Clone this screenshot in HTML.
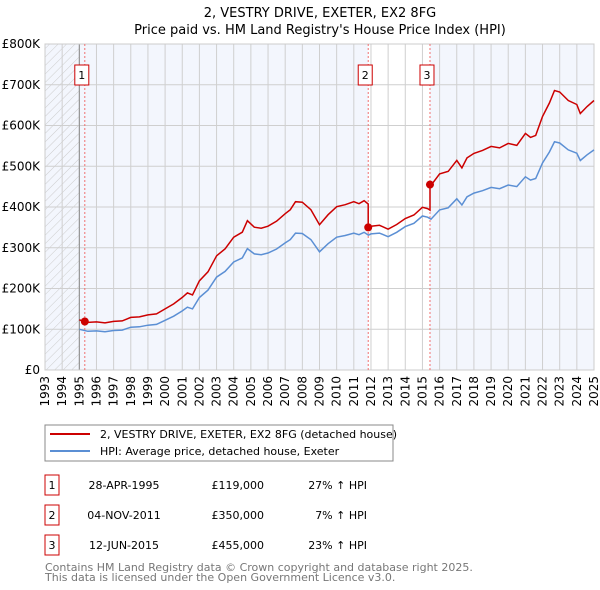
<!DOCTYPE html>
<html><head><meta charset="utf-8"><style>
body{margin:0;background:#fff;font-family:"DejaVu Sans","Liberation Sans",sans-serif;}
svg{display:block}
</style></head><body>
<svg width="600" height="590" xmlns="http://www.w3.org/2000/svg" font-family="DejaVu Sans, Liberation Sans, sans-serif">
<defs><pattern id="hatch" width="6" height="6" patternUnits="userSpaceOnUse" patternTransform="rotate(45)"><line x1="0" y1="0" x2="0" y2="6" stroke="#ccc" stroke-width="1"/></pattern></defs>
<text x="320" y="17" font-size="13" text-anchor="middle">2, VESTRY DRIVE, EXETER, EX2 8FG</text>
<text x="320" y="34" font-size="13" text-anchor="middle">Price paid vs. HM Land Registry's House Price Index (HPI)</text>
<g id="plot"></g>
<g id="legend">
<rect x="45" y="425" width="348" height="36" fill="#fff" stroke="#888"/>
<line x1="50" y1="434" x2="90" y2="434" stroke="#cc0000" stroke-width="2"/>
<text x="100" y="438" font-size="11">2, VESTRY DRIVE, EXETER, EX2 8FG (detached house)</text>
<line x1="50" y1="451" x2="90" y2="451" stroke="#5b8fd4" stroke-width="2"/>
<text x="100" y="455" font-size="11">HPI: Average price, detached house, Exeter</text>
</g>
<g id="table" font-size="11"></g>
<text x="45" y="571" font-size="11" fill="#777">Contains HM Land Registry data © Crown copyright and database right 2025.</text>
<text x="45" y="581" font-size="11" fill="#777">This data is licensed under the Open Government Licence v3.0.</text>
</svg>
<script>
const hpiYears=[1995,1995.5,1996,1996.5,1997,1997.5,1998,1998.5,1999,1999.5,2000,2000.5,2001,2001.3,2001.6,2002,2002.5,2003,2003.5,2004,2004.5,2004.8,2005.2,2005.6,2006,2006.5,2007,2007.3,2007.6,2008,2008.5,2009,2009.5,2010,2010.5,2011,2011.3,2011.6,2011.85,2012,2012.5,2013,2013.5,2014,2014.5,2015,2015.3,2015.5,2016,2016.5,2017,2017.3,2017.6,2018,2018.5,2019,2019.5,2020,2020.5,2021,2021.3,2021.6,2022,2022.4,2022.7,2023,2023.5,2024,2024.2,2024.6,2025];
const hpiValues=[100,95,96,94,97,98,105,106,110,112,122,132,145,154,150,178,196,228,242,265,275,298,285,283,287,297,312,320,336,335,320,290,310,326,330,336,332,338,331,334,336,327,338,352,360,378,375,370,393,398,420,405,425,434,440,448,445,454,450,474,466,470,508,535,560,557,540,532,514,528,540];
const saleDates=[1995.32,2011.84,2015.44];
const salePrices=[119,350,455];
const saleLabels=["1","2","3"];
const saleDateText=["28-APR-1995","04-NOV-2011","12-JUN-2015"];
const salePriceText=["£119,000","£350,000","£455,000"];
const saleDiffText=["27% ↑ HPI","7% ↑ HPI","23% ↑ HPI"];
const yTicks=[0,100,200,300,400,500,600,700,800];
const yTickLabels=["£0","£100K","£200K","£300K","£400K","£500K","£600K","£700K","£800K"];
const xYears=[1993,1994,1995,1996,1997,1998,1999,2000,2001,2002,2003,2004,2005,2006,2007,2008,2009,2010,2011,2012,2013,2014,2015,2016,2017,2018,2019,2020,2021,2022,2023,2024,2025];

const NS="http://www.w3.org/2000/svg";
const X0=45,X1=594,Y0=370,Y1=44;
const xS=t=>X0+(t-1993)/32*(X1-X0);
const yS=v=>Y0-v/800*(Y0-Y1);
const plot=document.getElementById('plot');
function mk(tag,attrs,parent){const e=document.createElementNS(NS,tag);for(const k in attrs)e.setAttribute(k,attrs[k]);(parent||plot).appendChild(e);return e;}
function hpiAt(t){for(let i=1;i<hpiYears.length;i++){if(t<=hpiYears[i]){const f=(t-hpiYears[i-1])/(hpiYears[i]-hpiYears[i-1]);return hpiValues[i-1]+f*(hpiValues[i]-hpiValues[i-1]);}}return hpiValues[hpiValues.length-1];}

let e;
e=mk('rect',{x:X0,y:Y1,width:X1-X0,height:Y0-Y1,fill:'#f3f6fd'});

e=mk('rect',{x:xS(saleDates[1]),y:Y1,width:xS(saleDates[2])-xS(saleDates[1]),height:Y0-Y1,fill:'#fff'});

e=mk('rect',{x:X0,y:Y1,width:xS(1995)-X0,height:Y0-Y1,fill:'url(#hatch)'});

xYears.forEach(y=>{e=mk('line',{x1:xS(y),x2:xS(y),y1:Y1,y2:Y0,stroke:'#cfcfcf','stroke-width':1});
});
yTicks.forEach((v,i)=>{e=mk('line',{x1:X0,x2:X1,y1:yS(v),y2:yS(v),stroke:'#cfcfcf','stroke-width':1});

e=mk('text',{x:40,y:yS(v)+4,'font-size':12,'text-anchor':'end'});e.textContent=yTickLabels[i];
});
e=mk('line',{x1:xS(1995),x2:xS(1995),y1:Y1,y2:Y0,stroke:'#888'});

e=mk('rect',{x:X0,y:Y1,width:X1-X0,height:Y0-Y1,fill:'none',stroke:'#ccc'});

xYears.forEach(y=>{e=mk('text',{x:0,y:0,'font-size':12,'text-anchor':'end',transform:`translate(${xS(y)+4},376) rotate(-90)`});e.textContent=y;
});
// sale lines
saleDates.forEach((d,i)=>{e=mk('line',{x1:xS(d),x2:xS(d),y1:Y1,y2:Y0,stroke:'#f07070','stroke-dasharray':'2,2'});
});
// hpi line
let pts=hpiYears.map((t,i)=>xS(t).toFixed(1)+','+yS(hpiValues[i]).toFixed(1)).join(' ');
e=mk('polyline',{points:pts,fill:'none',stroke:'#5b8fd4','stroke-width':1.5});

// property line: HPI scaled by most recent sale
const rp=[];
hpiYears.forEach((t,i)=>{
  let k=0;for(let j=0;j<saleDates.length;j++)if(t>=saleDates[j])k=j;
  if(i>0&&saleDates.some((d,j)=>j>0&&d>hpiYears[i-1]&&d<=t)){
    const j=saleDates.findIndex((d,jj)=>jj>0&&d>hpiYears[i-1]&&d<=t);
    const f0=salePrices[j-1]/hpiAt(saleDates[j-1]);
    rp.push([saleDates[j],hpiAt(saleDates[j])*f0]);rp.push([saleDates[j],salePrices[j]]);
  }
  const f=salePrices[k]/hpiAt(saleDates[k]);rp.push([t,hpiValues[i]*f]);
});
pts=rp.map(p=>xS(p[0]).toFixed(1)+','+yS(p[1]).toFixed(1)).join(' ');
e=mk('polyline',{points:pts,fill:'none',stroke:'#cc0000','stroke-width':1.5});

saleDates.forEach((d,i)=>{
  e=mk('circle',{cx:xS(d),cy:yS(salePrices[i]),r:4,fill:'#cc0000'});
  
  e=mk('rect',{x:xS(d)-10,y:65,width:14,height:20,fill:'#fff',stroke:'#cc0000'});
  
  e=mk('text',{x:xS(d)-3,y:79,'font-size':11,'text-anchor':'middle'});e.textContent=saleLabels[i];
  
});
// table
const tb=document.getElementById('table');
saleLabels.forEach((l,i)=>{const y=475+i*30;
  e=mk('rect',{x:45,y:y,width:14,height:20,fill:'#fff',stroke:'#cc0000'},tb);
  
  e=mk('text',{x:52,y:y+14,'text-anchor':'middle'},tb);e.textContent=l;
  
  e=mk('text',{x:124,y:y+14,'text-anchor':'middle'},tb);e.textContent=saleDateText[i];
  
  e=mk('text',{x:264,y:y+14,'text-anchor':'end'},tb);e.textContent=salePriceText[i];
  
  e=mk('text',{x:367,y:y+14,'text-anchor':'end'},tb);e.textContent=saleDiffText[i];
  
});
</script>
</body></html>
